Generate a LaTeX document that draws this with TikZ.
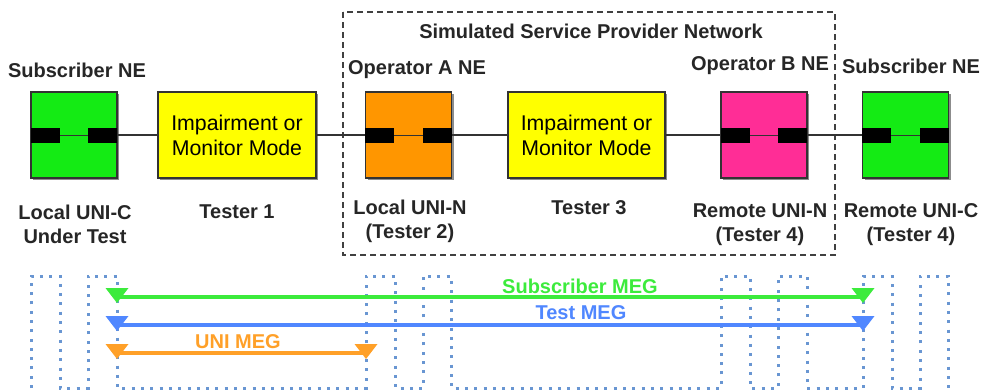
\documentclass[tikz,border=0pt]{standalone}
\usepackage{fontspec}
\setmainfont{Liberation Sans}
\usetikzlibrary{shadows}
\definecolor{negreen}{RGB}{20,235,20}
\definecolor{nepink}{RGB}{255,45,150}
\definecolor{neorange}{RGB}{255,150,0}
\definecolor{neyellow}{RGB}{255,255,0}
\definecolor{meggreen}{RGB}{60,235,60}
\definecolor{megblue}{RGB}{80,135,255}
\definecolor{megorange}{RGB}{255,160,40}
\definecolor{dotblue}{RGB}{105,150,210}
\begin{document}
\begin{tikzpicture}[x=1pt,y=-1pt,
  nebox/.style={draw=black!80, line width=1.2pt, minimum width=86pt, minimum height=86pt, inner sep=0pt,
    drop shadow={shadow xshift=2pt, shadow yshift=-2pt, fill=black!45, opacity=1}},
  testerbox/.style={nebox, minimum width=158pt, fill=neyellow, align=center,
    font=\fontsize{21.3}{25}\selectfont},
  port/.style={fill=black, minimum width=29pt, minimum height=15pt, inner sep=0pt},
  inner/.style={draw=black!80, line width=1pt},
  link/.style={draw=black!80, line width=2pt},
  lbl/.style={font=\bfseries\fontsize{20}{24}\selectfont, align=center, text=black!85, inner sep=0pt},
  meglbl/.style={font=\bfseries\fontsize{20}{24}\selectfont, inner sep=0pt},
  megline/.style={line width=3.5pt},
  dotline/.style={draw=dotblue, line width=3pt, dash pattern=on 3pt off 6.3pt},
  spnet/.style={draw=black!75, line width=2.5pt, dash pattern=on 6pt off 4pt}
]
\useasboundingbox (0,0) rectangle (984,391);

% service provider network frame
\draw[spnet] (343,12) rectangle (835,255);
\node[lbl] (spn) at (591,31) {Simulated Service Provider Network};

% network elements and testers
\node[nebox, fill=negreen] (sub1) at (74,135) {};
\node[testerbox] (t1) at (237,135) {Impairment or\\Monitor Mode};
\node[nebox, fill=neorange] (opa) at (408.5,135) {};
\node[testerbox, minimum width=157pt] (t3) at (586.5,135) {Impairment or\\Monitor Mode};
\node[nebox, fill=nepink] (opb) at (764,135) {};
\node[nebox, fill=negreen] (sub2) at (905.5,135) {};

% ports
\foreach \n in {sub1,opa,opb,sub2}{
  \node[port, anchor=west] (\n pl) at (\n.west) {};
  \node[port, anchor=east] (\n pr) at (\n.east) {};
  \draw[inner] (\n pl.east) -- (\n pr.west);
}

% connectors
\draw[link] (sub1.east) -- (t1.west);
\draw[link] (t1.east) -- (opa.west);
\draw[link] (opa.east) -- (t3.west);
\draw[link] (t3.east) -- (opb.west);
\draw[link] (opb.east) -- (sub2.west);

% labels
\node[lbl] (lsub1) at (77,70) {Subscriber NE};
\node[lbl] (lopa) at (417,70) {Operator A NE};
\node[lbl] (lopb) at (760,66) {Operator B NE};
\node[lbl] (lsub2) at (911,66) {Subscriber NE};
\node[lbl] (bsub1) at (75,224) {Local UNI-C\\Under Test};
\node[lbl] (bt1) at (237,212) {Tester 1};
\node[lbl] (bopa) at (410,221) {Local UNI-N\\(Tester 2)};
\node[lbl] (bt3) at (589,208) {Tester 3};
\node[lbl] (bopb) at (760,225) {Remote UNI-N\\(Tester 4)};
\node[lbl] (bsub2) at (911,225) {Remote UNI-C\\(Tester 4)};

% dotted meander
\draw[dotline] (31,388) -- (31,276) -- (60,276) -- (60,388) -- (88,388) -- (88,276) -- (117,276) -- (117,388)
  -- (366,388) -- (366,276) -- (395,276) -- (395,388) -- (423,388) -- (423,276) -- (451,276) -- (451,388)
  -- (721,388) -- (721,276) -- (750,276) -- (750,388) -- (778,388) -- (778,276) -- (807,276) -- (807,388)
  -- (863,388) -- (863,276) -- (892,276) -- (892,388) -- (920,388) -- (920,276) -- (948,276) -- (948,388);

% MEGs
\coordinate (sa) at (117,297);
\coordinate (sb) at (863,297);
\coordinate (ta) at (117,325);
\coordinate (tb) at (863,325);
\coordinate (ua) at (117,353);
\coordinate (ub) at (366,353);
\draw[megline, meggreen] (sa) -- (sb);
\draw[megline, megblue] (ta) -- (tb);
\draw[megline, megorange] (ua) -- (ub);
\foreach \c/\col in {sa/meggreen,sb/meggreen,ta/megblue,tb/megblue,ua/megorange,ub/megorange}{
  \fill[\col] (\c) ++(-11.5,-9) -- ++(23,0) -- ++(-11.5,15) -- cycle;
}
\node[meglbl, text=meggreen] (lsm) at (580,286) {Subscriber MEG};
\node[meglbl, text=megblue] (ltm) at (581,313) {Test MEG};
\node[meglbl, text=megorange] (lum) at (238,342) {UNI MEG};
\end{tikzpicture}
\end{document}
